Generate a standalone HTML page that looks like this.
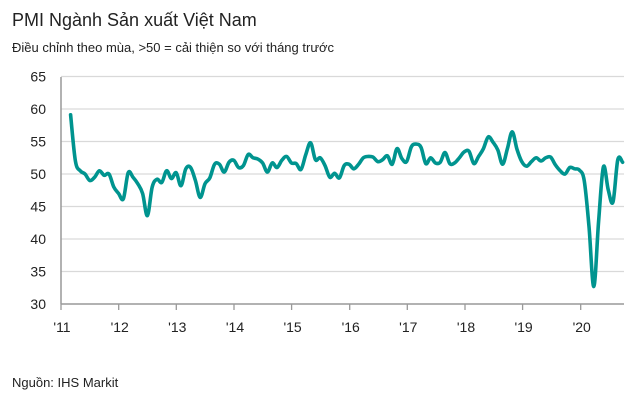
<!DOCTYPE html>
<html><head><meta charset="utf-8"><style>
body{margin:0;width:632px;height:402px;background:#fff;font-family:"Liberation Sans",sans-serif;overflow:hidden}
</style></head><body>
<svg width="632" height="402" xmlns="http://www.w3.org/2000/svg" font-family="Liberation Sans, sans-serif">
<text x="12" y="26" font-size="18" fill="#222">PMI Ngành Sản xuất Việt Nam</text>
<text x="12" y="52" font-size="13" fill="#222">Điều chỉnh theo mùa, &gt;50 = cải thiện so với tháng trước</text>
<g id="grid" stroke="#d9d9d9" stroke-width="1.3"></g>
<g id="ylab" font-size="14" fill="#222" text-anchor="end"></g>
<g id="xt" stroke="#999" stroke-width="1.3"></g>
<g id="xlab" font-size="14" fill="#222" text-anchor="middle"></g>
<line x1="61" y1="77" x2="61" y2="304" stroke="#999" stroke-width="1.5"/>
<line x1="61" y1="304" x2="624" y2="304" stroke="#999" stroke-width="1.5"/>
<path id="ln" fill="none" stroke="#00948f" stroke-width="3.6" stroke-linejoin="round" stroke-linecap="round"/>
<text x="12" y="387" font-size="13" fill="#222">Nguồn:  IHS Markit</text>
</svg>
<script>
var ns="http://www.w3.org/2000/svg";
function Y(v){return 304-(v-30)*6.5}
function el(p,t,a,txt){var e=document.createElementNS(ns,t);for(var k in a)e.setAttribute(k,a[k]);if(txt)e.textContent=txt;document.getElementById(p).appendChild(e);}
for(var v=30;v<=65;v+=5){if(v>30)el("grid","line",{x1:61,x2:624,y1:Y(v),y2:Y(v)});el("ylab","text",{x:46,y:Y(v)+5},""+v);}
var xs=[61,118.7,176.3,234,291.6,349.7,407.3,465,522.6,580.7];
for(var i=0;i<10;i++){el("xt","line",{x1:xs[i],x2:xs[i],y1:304,y2:310});el("xlab","text",{x:xs[i]+1,y:332},"'"+(11+i));}
var d=[59.1,52,50.5,50,49,49.5,50.5,49.8,50,48,
47,46.2,50.2,49.5,48.5,47,43.6,48,49.2,48.7,50.5,49.3,
50.2,48.2,50.8,51,49,46.4,48.5,49.4,51.5,51.5,50.3,51.8,
52.1,51,51.3,53,52.5,52.3,51.7,50.3,51.7,51,52.1,52.7,
51.7,51.6,50.7,53,54.8,52.2,52.5,51.3,49.5,50.1,49.4,51.3,
51.5,50.8,51.5,52.5,52.7,52.6,51.9,52.2,52.8,51.5,53.9,52.4,
51.9,54.2,54.6,54.1,51.6,52.5,51.7,51.8,53.3,51.6,51.7,52.5,
53.4,53.5,51.6,52.7,53.9,55.7,54.9,53.7,51.5,53.9,56.5,53.8,
51.9,51.2,51.9,52.5,52,52.5,52.6,51.4,50.5,50,51,50.8,
50.6,49,41.9,32.7,42.7,51.1,47.6,45.7,52.2,51.8];
var pts=d.map(function(v,i){return [61+(i+2)*4.8,Y(v)]});
var s="M"+pts[0][0]+","+pts[0][1];
for(var i=0;i<pts.length-1;i++){var p0=pts[Math.max(i-1,0)],p1=pts[i],p2=pts[i+1],p3=pts[Math.min(i+2,pts.length-1)];
var t=0.17;s+=" C"+(p1[0]+(p2[0]-p0[0])*t)+","+(p1[1]+(p2[1]-p0[1])*t)+" "+(p2[0]-(p3[0]-p1[0])*t)+","+(p2[1]-(p3[1]-p1[1])*t)+" "+p2[0]+","+p2[1];}
document.getElementById("ln").setAttribute("d",s);
</script>
</body></html>
